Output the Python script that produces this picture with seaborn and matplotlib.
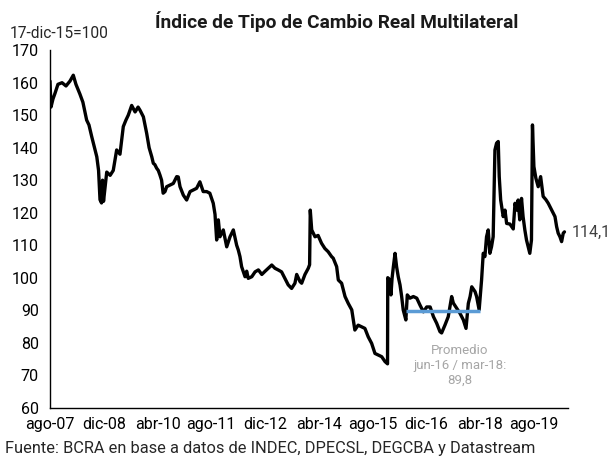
import pandas as pd
import matplotlib
matplotlib.use('Agg')
import matplotlib.pyplot as plt
import seaborn as sns

# ITCRM diario (base 17-dic-15=100)
fechas = [
    '2007-08-01', '2007-08-10', '2007-08-28', '2007-09-15', '2007-10-12', '2007-11-18', '2007-12-24',
    '2008-01-29', '2008-02-28', '2008-03-23', '2008-04-28', '2008-05-25', '2008-06-28', '2008-07-19',
    '2008-08-13', '2008-09-04', '2008-09-28', '2008-10-14', '2008-10-27', '2008-11-10', '2008-11-19',
    '2008-11-28', '2008-12-12', '2008-12-27', '2009-01-27', '2009-02-24', '2009-03-27', '2009-04-26',
    '2009-05-26', '2009-06-19', '2009-07-10', '2009-08-10', '2009-09-10', '2009-10-07', '2009-10-25',
    '2009-11-24', '2009-12-24', '2010-01-15', '2010-02-08', '2010-02-22', '2010-03-08', '2010-03-24',
    '2010-04-08', '2010-04-23', '2010-05-08', '2010-05-22', '2010-06-08', '2010-06-23', '2010-07-22',
    '2010-08-22', '2010-09-22', '2010-10-06', '2010-10-22', '2010-11-21', '2010-12-21', '2011-01-21',
    '2011-02-19', '2011-03-21', '2011-04-20', '2011-05-20', '2011-06-20', '2011-07-19', '2011-08-19',
    '2011-09-04', '2011-09-19', '2011-10-04', '2011-10-19', '2011-11-18', '2011-12-19', '2012-01-18',
    '2012-02-17', '2012-03-18', '2012-04-02', '2012-04-17', '2012-05-02', '2012-06-02', '2012-06-17',
    '2012-07-01', '2012-08-02', '2012-09-01', '2012-10-01', '2012-11-01', '2012-12-01', '2012-12-30',
    '2013-01-30', '2013-02-28', '2013-03-29', '2013-04-29', '2013-05-29', '2013-06-28', '2013-07-29',
    '2013-08-28', '2013-09-13', '2013-10-13', '2013-10-28', '2013-11-27', '2013-12-27', '2014-01-08',
    '2014-01-14', '2014-01-27', '2014-02-26', '2014-03-26', '2014-04-26', '2014-05-26', '2014-06-25',
    '2014-07-26', '2014-08-10', '2014-09-10', '2014-09-25', '2014-10-25', '2014-11-25', '2014-12-24',
    '2015-01-25', '2015-02-22', '2015-03-24', '2015-04-24', '2015-05-24', '2015-06-23', '2015-07-24',
    '2015-08-23', '2015-09-22', '2015-10-23', '2015-11-22', '2015-12-15', '2015-12-17', '2016-01-05',
    '2016-01-15', '2016-01-25', '2016-02-06', '2016-02-21', '2016-03-06', '2016-03-21', '2016-04-06',
    '2016-04-21', '2016-05-05', '2016-05-29', '2016-06-11', '2016-07-05', '2016-08-05', '2016-09-05',
    '2016-10-05', '2016-11-04', '2016-12-04', '2017-01-04', '2017-02-03', '2017-03-04', '2017-04-03',
    '2017-04-18', '2017-05-18', '2017-06-17', '2017-07-18', '2017-08-02', '2017-09-02', '2017-10-02',
    '2017-11-01', '2017-11-25', '2017-12-16', '2018-01-01', '2018-01-16', '2018-02-15', '2018-03-01',
    '2018-03-24', '2018-04-15', '2018-04-30', '2018-05-15', '2018-05-30', '2018-06-14', '2018-06-29',
    '2018-07-14', '2018-07-29', '2018-08-14', '2018-08-29', '2018-09-13', '2018-09-22', '2018-10-05',
    '2018-10-28', '2018-11-13', '2018-11-28', '2018-12-28', '2019-01-27', '2019-02-12', '2019-02-27',
    '2019-03-12', '2019-03-27', '2019-04-12', '2019-04-26', '2019-05-12', '2019-05-27', '2019-06-11',
    '2019-06-26', '2019-07-11', '2019-07-20', '2019-08-02', '2019-08-20', '2019-09-10', '2019-10-02',
    '2019-10-25', '2019-11-19', '2019-12-10', '2020-01-10', '2020-02-09', '2020-02-24', '2020-03-09',
    '2020-03-25', '2020-04-09', '2020-04-24', '2020-05-05',
]
itcrm = [
    160.5, 152.5, 155.0, 156.7, 159.5, 160.0, 159.0,
    160.5, 162.3, 159.5, 156.5, 154.0, 148.5, 147.0,
    143.4, 140.5, 137.2, 133.0, 124.0, 123.0, 130.0,
    123.5, 128.0, 132.5, 131.5, 133.0, 139.3, 138.0,
    146.5, 148.5, 150.0, 153.0, 151.0, 152.5, 151.5,
    149.5, 144.4, 140.0, 137.2, 135.2, 134.8, 133.7,
    133.0, 131.6, 130.0, 126.0, 126.5, 128.0, 128.5,
    129.0, 131.1, 131.0, 128.0, 125.4, 123.9, 126.5,
    127.0, 127.5, 129.5, 126.5, 126.5, 126.0, 122.9,
    119.5, 111.6, 117.8, 112.6, 114.7, 109.5, 112.6,
    114.7, 110.0, 108.5, 106.5, 103.4, 100.3, 102.0,
    99.8, 100.3, 101.8, 102.4, 101.0, 102.0, 102.9,
    103.9, 102.9, 102.4, 101.8, 99.8, 97.8, 96.7,
    98.3, 101.0, 98.8, 98.3, 101.0, 102.9, 104.0,
    120.8, 114.7, 112.6, 113.0, 110.6, 109.0, 108.0,
    106.5, 106.0, 103.4, 99.3, 98.3, 94.2, 92.1,
    90.1, 83.9, 85.4, 84.9, 84.4, 81.8, 79.8,
    76.7, 76.2, 75.7, 74.2, 73.5, 100.0, 99.3,
    94.7, 99.8, 103.4, 107.5, 103.4, 100.3, 97.8,
    94.2, 90.1, 87.0, 94.7, 93.7, 94.2, 93.7,
    91.5, 89.5, 91.0, 91.0, 88.0, 86.0, 83.4,
    83.0, 85.4, 88.0, 94.2, 92.2, 90.6, 89.0,
    87.0, 84.4, 92.1, 94.2, 97.2, 95.7, 94.2,
    90.1, 99.3, 107.5, 106.5, 112.6, 114.7, 107.5,
    109.5, 112.6, 139.3, 141.4, 141.9, 131.1, 123.9,
    118.8, 120.8, 116.7, 116.5, 115.0, 122.9, 120.8,
    123.9, 117.8, 124.4, 118.8, 114.7, 111.6, 109.5,
    107.5, 111.6, 147.0, 134.2, 130.6, 128.0, 131.1,
    125.0, 124.0, 122.9, 120.8, 118.8, 115.7, 113.7,
    112.6, 111.1, 113.7, 114.1,
]

tick_fechas = ['2007-08-01', '2008-12-01', '2010-04-01', '2011-08-01', '2012-12-01',
               '2014-04-01', '2015-08-01', '2016-12-01', '2018-04-01', '2019-08-01']
tick_labels = ['ago-07', 'dic-08', 'abr-10', 'ago-11', 'dic-12',
               'abr-14', 'ago-15', 'dic-16', 'abr-18', 'ago-19']

prom_inicio = '2016-06-01'
prom_fin = '2018-03-31'
prom_valor = 89.8

sns.set_theme(style='white')
plt.rcParams['font.family'] = ['Roboto', 'DejaVu Sans']

df = pd.DataFrame({'fecha': pd.to_datetime(fechas), 'itcrm': itcrm})

W, H = 609, 459
fig = plt.figure(figsize=(W / 100, H / 100), dpi=100)
ax = fig.add_axes([50 / W, 1 - 407.7 / H, (568 - 50) / W, (407.7 - 50.2) / H])

sns.lineplot(data=df, x='fecha', y='itcrm', color='black', linewidth=2.4, ax=ax)
ax.plot(pd.to_datetime([prom_inicio, prom_fin]), [prom_valor, prom_valor],
        color='#5b9bd5', linewidth=2.5, solid_capstyle='butt')

ax.set_xlim(pd.Timestamp('2007-08-01'), pd.Timestamp('2020-06-06'))
ax.set_ylim(60, 170)
ax.set_yticks(range(60, 171, 10))
ax.set_xticks(pd.to_datetime(tick_fechas))
ax.set_xticklabels(tick_labels)
ax.set_xlabel('')
ax.set_ylabel('')

for s in ['top', 'right']:
    ax.spines[s].set_visible(False)
for s in ['left', 'bottom']:
    ax.spines[s].set_color('black')
    ax.spines[s].set_linewidth(1.0)
ax.tick_params(axis='both', direction='in', length=4, width=1, color='black',
               labelsize=11.5, labelcolor='black')
ax.tick_params(axis='y', pad=8)
ax.tick_params(axis='x', pad=7)

# etiquetas
ax.text(pd.Timestamp('2017-10-01'), 73, 'Promedio\njun-16 / mar-18:\n' + f'{prom_valor:.1f}'.replace('.', ','),
        ha='center', va='center', color='#a6a6a6', fontsize=9.5, linespacing=1.15)
ax.annotate(f'{itcrm[-1]:.1f}'.replace('.', ','), xy=(df['fecha'].iloc[-1], itcrm[-1]),
            xytext=(5, 0), textcoords='offset points', ha='left', va='center',
            fontsize=11.5, color='#404040', annotation_clip=False)

fig.text(337 / W, 1 - 22 / H, 'Índice de Tipo de Cambio Real Multilateral',
         ha='center', va='center', fontsize=13.8, fontweight='bold', color='#1a1a1a')
fig.text(10 / W, 1 - 33 / H, '17-dic-15=100', ha='left', va='center', fontsize=11.2)
fig.text(5 / W, 1 - 448 / H, 'Fuente: BCRA en base a datos de INDEC, DPECSL, DEGCBA y Datastream',
         ha='left', va='center', fontsize=11.8)

fig.savefig('out.png', dpi=100)
